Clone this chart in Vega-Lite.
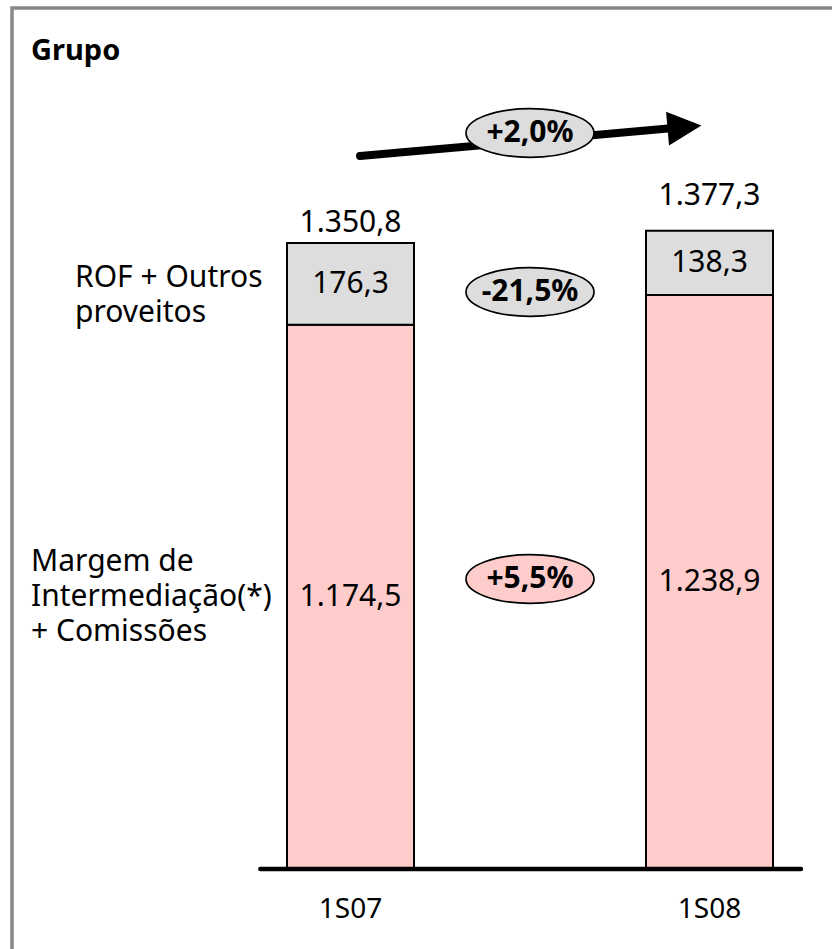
{
  "$schema": "https://vega.github.io/schema/vega-lite/v6.json",
  "autosize": {"type": "none"},
  "padding": {"left": 12, "top": 8, "right": -8, "bottom": -8},
  "width": 828,
  "height": 949,
  "background": "#ffffff",
  "title": {"text": "Grupo", "anchor": "start", "frame": "group", "font": "Noto Sans", "fontSize": 29, "fontWeight": "bold", "color": "#000000", "dx": 19, "dy": 81, "offset": 0, "baseline": "alphabetic"},
  "datasets": {
    "segmentos": [
      {"periodo": "1S07", "serie": "Margem de\nIntermediação(*)\n+ Comissões", "valor": 1174.5},
      {"periodo": "1S07", "serie": "ROF + Outros\nproveitos", "valor": 176.3},
      {"periodo": "1S08", "serie": "Margem de\nIntermediação(*)\n+ Comissões", "valor": 1238.9},
      {"periodo": "1S08", "serie": "ROF + Outros\nproveitos", "valor": 138.3}
    ],
    "totais": [
      {"periodo": "1S07", "total": 1350.8},
      {"periodo": "1S08", "total": 1377.3}
    ],
    "variacoes": [
      {"serie": "Total", "variacao": 0.02},
      {"serie": "ROF + Outros\nproveitos", "variacao": -0.215},
      {"serie": "Margem de\nIntermediação(*)\n+ Comissões", "variacao": 0.055}
    ]
  },
  "layer": [
    {
      "data": {"name": "segmentos"},
      "transform": [
        {"stack": "valor", "groupby": ["periodo"], "sort": [{"field": "serie", "order": "ascending"}], "as": ["v0", "v1"]}
      ],
      "mark": {"type": "bar", "stroke": "#000000", "strokeWidth": 2},
      "encoding": {
        "x": {"field": "periodo", "type": "nominal",
          "scale": {"type": "band", "domain": ["1S07", "Var", "1S08"], "paddingInner": 0.29248, "paddingOuter": 0.95265, "align": 0.80409},
          "axis": null},
        "y": {"field": "v1", "type": "quantitative", "scale": {"domain": [-189.9, 1858], "nice": false, "zero": false}, "axis": null},
        "y2": {"field": "v0"},
        "color": {"field": "serie", "type": "nominal", "legend": null,
          "scale": {"domain": ["Margem de\nIntermediação(*)\n+ Comissões", "ROF + Outros\nproveitos", "Total"], "range": ["#ffcccc", "#dddddd", "#dddddd"]}}
      }
    },
    {
      "data": {"name": "variacoes"},
      "transform": [{"filter": "datum.serie === 'Total'"}],
      "mark": {"type": "rule", "stroke": "#000000", "strokeWidth": 4.5, "strokeCap": "round"},
      "encoding": {
        "x": {"datum": "1S07", "type": "nominal", "bandPosition": -0.21, "axis": null},
        "x2": {"datum": "1S08", "bandPosition": 1.22},
        "y": {"datum": 0, "type": "quantitative", "axis": null}
      }
    },
    {
      "data": {"name": "segmentos"},
      "transform": [
        {"stack": "valor", "groupby": ["periodo"], "sort": [{"field": "serie", "order": "ascending"}], "as": ["v0", "v1"]},
        {"fold": ["v0", "v1"], "as": ["limite", "pos"]},
        {"aggregate": [{"op": "mean", "field": "pos", "as": "meio"}, {"op": "max", "field": "valor", "as": "valor"}], "groupby": ["periodo", "serie"]}
      ],
      "layer": [
        {
          "mark": {"type": "text", "font": "Noto Sans", "fontSize": 30, "fill": "#000000", "baseline": "middle"},
          "encoding": {
            "x": {"field": "periodo", "type": "nominal", "axis": null},
            "y": {"field": "meio", "type": "quantitative", "axis": null},
            "text": {"field": "valor", "type": "quantitative", "format": ",.1f"}
          }
        },
        {
          "transform": [{"filter": "datum.periodo === '1S07' && indexof(datum.serie, 'ROF') === 0"}],
          "mark": {"type": "text", "font": "Noto Sans", "fontSize": 30, "fill": "#000000", "baseline": "middle", "align": "left", "dx": -275.5, "dy": -6, "lineBreak": "\n", "lineHeight": 35},
          "encoding": {
            "x": {"field": "periodo", "type": "nominal", "axis": null},
            "y": {"field": "meio", "type": "quantitative", "axis": null},
            "text": {"field": "serie", "type": "nominal"}
          }
        },
        {
          "transform": [{"filter": "datum.periodo === '1S07' && indexof(datum.serie, 'Margem') === 0"}],
          "mark": {"type": "text", "font": "Noto Sans", "fontSize": 30, "fill": "#000000", "baseline": "middle", "align": "left", "dx": -319.5, "dy": -35, "lineBreak": "\n", "lineHeight": 35},
          "encoding": {
            "x": {"field": "periodo", "type": "nominal", "axis": null},
            "y": {"field": "meio", "type": "quantitative", "axis": null},
            "text": {"field": "serie", "type": "nominal"}
          }
        }
      ]
    },
    {
      "data": {"name": "totais"},
      "layer": [
        {
          "transform": [{"filter": "datum.periodo === '1S07'"}],
          "mark": {"type": "text", "font": "Noto Sans", "fontSize": 30, "fill": "#000000", "baseline": "alphabetic", "dy": -11},
          "encoding": {
            "x": {"field": "periodo", "type": "nominal", "axis": null},
            "y": {"field": "total", "type": "quantitative", "axis": null},
            "text": {"field": "total", "type": "quantitative", "format": ",.1f"}
          }
        },
        {
          "transform": [{"filter": "datum.periodo === '1S08'"}],
          "mark": {"type": "text", "font": "Noto Sans", "fontSize": 30, "fill": "#000000", "baseline": "alphabetic", "dy": -26},
          "encoding": {
            "x": {"field": "periodo", "type": "nominal", "axis": null},
            "y": {"field": "total", "type": "quantitative", "axis": null},
            "text": {"field": "total", "type": "quantitative", "format": ",.1f"}
          }
        },
        {
          "mark": {"type": "text", "font": "Noto Sans", "fontSize": 28, "fill": "#000000", "baseline": "middle", "dy": 41},
          "encoding": {
            "x": {"field": "periodo", "type": "nominal", "axis": null},
            "y": {"datum": 0, "type": "quantitative", "axis": null},
            "text": {"field": "periodo", "type": "nominal"}
          }
        }
      ]
    },
    {
      "data": {"name": "variacoes"},
      "layer": [
        {
          "transform": [{"filter": "datum.serie === 'Total'"}],
          "mark": {"type": "rule", "stroke": "#000000", "strokeWidth": 8, "strokeCap": "round"},
          "encoding": {
            "x": {"datum": "1S07", "type": "nominal", "bandPosition": 0.575, "axis": null},
            "x2": {"datum": "1S08", "bandPosition": 0.307},
            "y": {"datum": 1538.6, "type": "quantitative", "axis": null},
            "y2": {"datum": 1601}
          }
        },
        {
          "transform": [{"filter": "datum.serie === 'Total'"}],
          "mark": {"type": "point", "filled": true, "opacity": 1, "shape": "M -1 -1 L 1 0 L -1 1 Z", "size": 1156, "angle": -5, "fill": "#000000", "stroke": null},
          "encoding": {
            "x": {"datum": "1S08", "type": "nominal", "bandPosition": 0.303, "axis": null},
            "y": {"datum": 1601, "type": "quantitative", "axis": null}
          }
        },
        {
          "transform": [{"filter": "datum.serie === 'Total'"}],
          "layer": [
            {
              "mark": {"type": "point", "filled": true, "opacity": 1, "shape": "M -1 0 C -1 -0.21 -0.552 -0.38 0 -0.38 C 0.552 -0.38 1 -0.21 1 0 C 1 0.21 0.552 0.38 0 0.38 C -0.552 0.38 -1 0.21 -1 0 Z", "size": 16384, "stroke": "#000000", "strokeWidth": 1.7},
              "encoding": {
                "x": {"datum": "Var", "type": "nominal", "axis": null},
                "y": {"datum": 1588.3, "type": "quantitative", "axis": null},
                "color": {"field": "serie", "type": "nominal", "legend": null}
              }
            },
            {
              "mark": {"type": "text", "font": "Noto Sans", "fontSize": 30, "fontWeight": "bold", "fill": "#000000", "baseline": "middle"},
              "encoding": {
                "x": {"datum": "Var", "type": "nominal", "axis": null},
                "y": {"datum": 1588.3, "type": "quantitative", "axis": null},
                "text": {"field": "variacao", "type": "quantitative", "format": "+.1%"}
              }
            }
          ]
        },
        {
          "transform": [{"filter": "indexof(datum.serie, 'ROF') === 0"}],
          "layer": [
            {
              "mark": {"type": "point", "filled": true, "opacity": 1, "shape": "M -1 0 C -1 -0.21 -0.552 -0.38 0 -0.38 C 0.552 -0.38 1 -0.21 1 0 C 1 0.21 0.552 0.38 0 0.38 C -0.552 0.38 -1 0.21 -1 0 Z", "size": 16384, "stroke": "#000000", "strokeWidth": 1.7},
              "encoding": {
                "x": {"datum": "Var", "type": "nominal", "axis": null},
                "y": {"datum": 1245.1, "type": "quantitative", "axis": null},
                "color": {"field": "serie", "type": "nominal", "legend": null}
              }
            },
            {
              "mark": {"type": "text", "font": "Noto Sans", "fontSize": 30, "fontWeight": "bold", "fill": "#000000", "baseline": "middle"},
              "encoding": {
                "x": {"datum": "Var", "type": "nominal", "axis": null},
                "y": {"datum": 1245.1, "type": "quantitative", "axis": null},
                "text": {"field": "variacao", "type": "quantitative", "format": "+.1%"}
              }
            }
          ]
        },
        {
          "transform": [{"filter": "indexof(datum.serie, 'Margem') === 0"}],
          "layer": [
            {
              "mark": {"type": "point", "filled": true, "opacity": 1, "shape": "M -1 0 C -1 -0.21 -0.552 -0.38 0 -0.38 C 0.552 -0.38 1 -0.21 1 0 C 1 0.21 0.552 0.38 0 0.38 C -0.552 0.38 -1 0.21 -1 0 Z", "size": 16384, "stroke": "#000000", "strokeWidth": 1.7},
              "encoding": {
                "x": {"datum": "Var", "type": "nominal", "axis": null},
                "y": {"datum": 625.8, "type": "quantitative", "axis": null},
                "color": {"field": "serie", "type": "nominal", "legend": null}
              }
            },
            {
              "mark": {"type": "text", "font": "Noto Sans", "fontSize": 30, "fontWeight": "bold", "fill": "#000000", "baseline": "middle"},
              "encoding": {
                "x": {"datum": "Var", "type": "nominal", "axis": null},
                "y": {"datum": 625.8, "type": "quantitative", "axis": null},
                "text": {"field": "variacao", "type": "quantitative", "format": "+.1%"}
              }
            }
          ]
        }
      ]
    }
  ],
  "config": {
    "view": {"stroke": "#888888", "strokeWidth": 3.5},
    "locale": {"number": {"decimal": ",", "thousands": ".", "grouping": [3], "currency": ["", " €"], "minus": "-"}},
    "text": {"font": "Noto Sans"}
  }
}
